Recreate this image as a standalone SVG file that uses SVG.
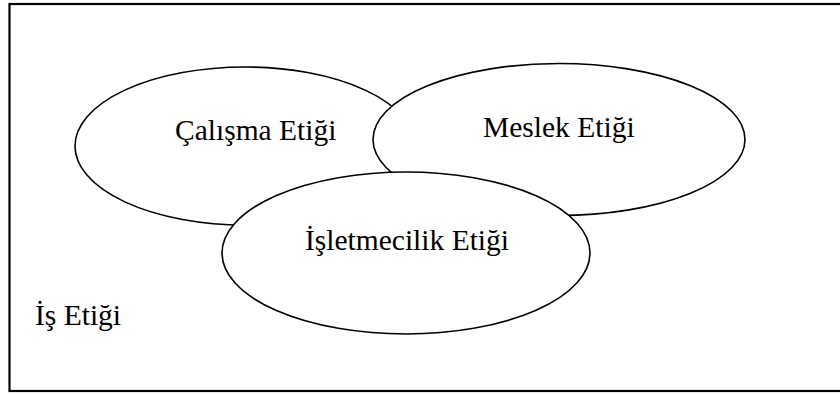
<svg xmlns="http://www.w3.org/2000/svg" width="840" height="394" viewBox="0 0 840 394">
  <style>
    .frame { fill: none; stroke: #000; stroke-width: 2.2; }
    .set { fill: #fff; stroke: #000; stroke-width: 1.6; }
    .label { font-family: "Liberation Serif", "Times New Roman", serif; font-size: 29.5px; fill: #000; }
  </style>
  <rect width="840" height="394" fill="#fff"/>

  <!-- outer frame: business ethics -->
  <g id="is-etigi">
    <rect class="frame" x="9.5" y="4" width="840" height="387"/>
    <text class="label" x="35" y="325">İş Etiği</text>
  </g>

  <g id="calisma-etigi">
    <ellipse class="set" cx="245" cy="146" rx="170" ry="79"/>
    <text class="label" x="175" y="140">Çalışma Etiği</text>
  </g>

  <g id="meslek-etigi">
    <ellipse class="set" cx="559" cy="139.5" rx="186" ry="76"/>
    <text class="label" x="483" y="137">Meslek Etiği</text>
  </g>

  <g id="isletmecilik-etigi">
    <ellipse class="set" cx="406" cy="253" rx="184" ry="81"/>
    <text class="label" x="305" y="250">İşletmecilik Etiği</text>
  </g>

  <g id="connectors"/>
</svg>
